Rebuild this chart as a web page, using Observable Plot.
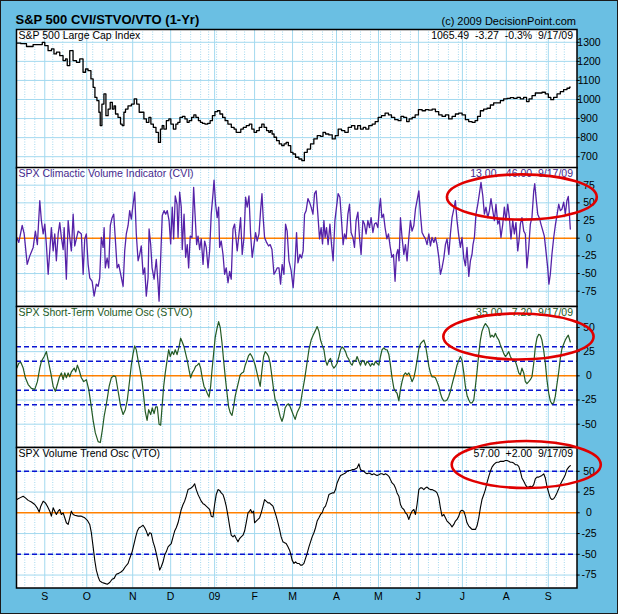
<!DOCTYPE html>
<html><head><meta charset="utf-8">
<script src="https://cdn.jsdelivr.net/npm/d3@7"></script>
<script src="https://cdn.jsdelivr.net/npm/@observablehq/plot@0.6"></script>
<style>
html,body{margin:0;padding:0;background:#fff;}
#chart{position:relative;width:618px;height:614px;background:#6abfe3;overflow:hidden;font-family:"Liberation Sans",Arial,sans-serif;}
#chart svg{position:absolute;left:0;overflow:visible;}
.t{position:absolute;white-space:pre;line-height:1;color:#000;}
#border{position:absolute;left:0;top:0;width:618px;height:614px;box-sizing:border-box;border:1px solid #1a1a1a;pointer-events:none;}
</style></head><body><div id="chart">
<div class="t" style="left:15.5px;top:13.3px;font-size:13px;font-weight:bold;">S&amp;P 500 CVI/STVO/VTO (1-Yr)</div>
<div class="t" style="right:42px;top:15.5px;font-size:11px;">(c) 2009 DecisionPoint.com</div>
</div>
<script>
// ---------- calendar ----------
const holidays = ["2008-09-01","2008-11-27","2008-12-25","2009-01-01","2009-01-19","2009-02-16","2009-04-10","2009-05-25","2009-07-03","2009-09-07"];
const monthLabels = ["S","O","N","D","09","F","M","A","M","J","J","A","S"];
const yTicksPrice = [700,800,900,1000,1100,1200,1300];
const yTicksCVI = [-75,-50,-25,0,25,50,75];
const yTicksSTVO = [-50,-25,0,25,50];
const yTicksVTO = [-75,-50,-25,0,25,50];
const stvoBands = [-30,-15,15,30];
const vtoBands = [-50,50];

// ---------- data: [trading-day index, value] ----------
const priceSeries = [[0,1296],[4,1293],[5.7,1278],[7.3,1278],[9,1288],[12.3,1288],[13.2,1300],[14.8,1283],[16.5,1256],[18.2,1265],[19,1239],[20.7,1248],[22.3,1230],[24,1204],[24.8,1213],[25.7,1178],[27.3,1256],[29,1204],[30.7,1195],[32.3,1213],[34,1143],[34.8,1160],[36.5,1151],[37.7,1108],[38.7,1064],[39.5,1011],[40.7,994],[41.5,933],[42,863],[43.2,976],[44,1029],[45.2,915],[46.2,950],[47.3,985],[48.3,950],[49,967],[49.8,924],[51.5,906],[52.3,871],[53.2,863],[54,933],[54.8,950],[56.5,967],[58.2,976],[59.3,1003],[60.7,976],[61.8,933],[63.2,933],[64,898],[65.7,880],[66.5,906],[67.7,871],[69,854],[70.3,828],[71.5,775],[72.3,845],[73.2,863],[74,845],[75.7,889],[76.5,898],[77.7,871],[79,845],[80.2,871],[81,880],[82.3,906],[83.5,911],[84.8,898],[85.7,880],[86.8,889],[88.2,906],[89,919],[90.3,906],[91.5,889],[92.3,880],[93.5,875],[94.8,871],[96.2,875],[97.3,889],[98.5,915],[99.8,936],[101,941],[102.3,924],[103.7,906],[104.8,889],[106.5,871],[108.2,854],[109.3,845],[110.3,828],[111.5,828],[112.7,845],[114,854],[115.7,863],[117,871],[118.2,845],[119.3,828],[120.7,837],[122,854],[123.2,871],[124.3,854],[125.7,837],[126.5,828],[127.3,837],[128.2,819],[129.3,802],[130.7,784],[132,767],[133.2,758],[134.3,767],[135.3,775],[136.5,758],[137.7,723],[138.7,714],[140.3,697],[142,688],[143.3,679],[144.5,723],[146.2,740],[147.8,767],[149.5,793],[151.2,810],[152.8,807],[153.7,828],[155.3,819],[157,814],[158.7,793],[160,810],[161.7,845],[163.3,837],[165,828],[166.7,854],[168.3,863],[170,845],[171.2,863],[172.8,845],[174,854],[175.3,845],[177,863],[178.7,871],[180,884],[181.7,906],[183.3,915],[185.3,929],[186.7,919],[188.3,906],[190,894],[191.7,889],[192.8,911],[194.5,906],[195.7,884],[197,898],[198.7,906],[200,919],[202,947],[203.7,941],[205.3,947],[207,944],[208.7,950],[210.3,936],[212,919],[213.7,911],[215.3,919],[217,898],[218.7,911],[220.3,924],[222,929],[223.7,919],[225.3,894],[227,884],[228.7,880],[230,889],[231.2,911],[232.8,941],[234.5,950],[236.2,954],[237.8,971],[239.5,982],[241.2,982],[242.8,994],[244.5,1003],[246.2,1006],[247.8,1010],[249.5,1006],[251.2,1011],[252.8,1003],[254.5,1011],[255.7,989],[257,1003],[258.7,1020],[260.3,1034],[262,1034],[263.7,1038],[265.3,1029],[266.7,1011],[267.8,999],[269.5,1011],[271.2,1029],[272.8,1041],[274.5,1052],[276.2,1059],[277,1065]];

const cviSeries = [[0,1],[1,-6],[2.7,18],[3.7,6],[5.2,-37],[6.5,-25],[8.2,-13],[9.3,10],[10.3,-9],[11.5,53],[12.3,25],[13.2,6],[14,20],[14.8,-9],[15.7,-51],[16.5,-18],[17.3,15],[18.2,-18],[19,6],[19.8,-32],[20.7,6],[21.5,22],[22.3,1],[23.2,-16],[23.7,15],[24.8,-58],[25.7,25],[26.5,1],[27.3,-18],[28.2,34],[29,-11],[29.8,-1],[30.7,10],[31.5,8],[32.3,6],[33.2,-51],[34,-1],[34.8,6],[35.7,-37],[36.5,-56],[37.7,-61],[38.7,-82],[39.8,-65],[40.7,-68],[41.5,-56],[42.3,1],[43.2,-13],[43.7,15],[44.3,-42],[45.2,-28],[46,-42],[46.8,18],[47.7,29],[48.5,34],[49.3,-1],[50.2,-42],[51,-37],[52,-51],[53.2,-68],[54,-18],[54.8,6],[55.7,18],[56.5,39],[57.3,27],[58.2,48],[59,65],[59.8,6],[60.7,-32],[61.5,-23],[62.3,-11],[63.2,-51],[64,-42],[64.8,-82],[65.7,-56],[66.2,13],[67,-9],[67.7,-42],[68.7,-58],[69.8,-30],[70.7,-65],[71.2,-89],[72,-28],[72.8,32],[73.7,39],[74.5,34],[75.3,39],[76.2,25],[77,-8],[77.8,44],[78.5,-1],[79.3,60],[80.2,48],[80.7,1],[81.5,65],[82.3,44],[82.8,-16],[83.7,34],[84.5,-27],[85.3,-9],[86,-42],[86.8,3],[87.7,1],[88.5,72],[89.2,34],[90,-9],[90.7,3],[91.5,-16],[92.3,-1],[93.2,-37],[94,-4],[94.8,-13],[95.7,-42],[96.5,-18],[97.3,34],[98.2,63],[98.7,82],[99.5,48],[100.3,29],[101,44],[101.5,-13],[102.3,-4],[103.2,-23],[104,-51],[104.8,-42],[105.7,-63],[106.5,-47],[107.3,-58],[108.2,13],[109,20],[109.5,6],[110.3,-18],[111.2,6],[112,29],[112.8,-23],[113.7,1],[114.5,58],[115.3,44],[116.2,60],[117,6],[117.8,-27],[118.7,-9],[119.5,8],[120.3,-4],[121.2,6],[122,39],[122.7,63],[123.3,29],[124,1],[125,-6],[126,-11],[126.8,-9],[127.7,-16],[128.7,-51],[129.5,-47],[130.3,-42],[131.2,-42],[132,-65],[132.8,-37],[133.7,-51],[134.5,20],[135.3,10],[136.2,-32],[137,-42],[137.3,-46],[138.3,-70],[139.3,-32],[140,8],[140.7,-35],[141.7,-23],[142.5,-28],[143.3,-18],[144,34],[144.8,39],[145.7,56],[146.5,51],[147.3,44],[148.2,34],[149,63],[149.8,67],[150.7,32],[151.5,-1],[152.3,15],[153,-8],[153.7,25],[154.3,1],[155,15],[155.8,-9],[156.7,20],[157.5,-9],[158.3,-32],[159.2,25],[160,44],[160.8,63],[161.7,58],[162.5,25],[163.3,-9],[164,6],[164.8,-1],[165.7,34],[166.5,48],[167.3,8],[168.2,1],[169,-13],[169.8,25],[170.7,37],[171.5,1],[172.3,-23],[173.2,25],[174,20],[174.8,6],[175.7,25],[176.5,15],[177.3,29],[178.2,8],[179,20],[179.8,22],[180.7,15],[181.5,44],[182,56],[182.7,29],[183.5,34],[184.3,15],[185.2,-1],[186,6],[186.8,-11],[187.7,-27],[188.5,-23],[189.3,-61],[190,-23],[190.7,-16],[191.3,-32],[192,29],[192.8,1],[193.7,-23],[194.5,-9],[195.3,-32],[196.2,1],[197,25],[197.8,10],[198.7,18],[199.5,41],[200.3,53],[201.2,67],[202,34],[202.8,8],[203.7,3],[204.5,-1],[205.3,-9],[206.2,6],[207,-11],[207.8,1],[208.7,-6],[209.5,1],[210.3,-9],[211.2,-27],[212,-51],[212.8,-42],[213.7,-28],[214.5,-9],[215.3,-1],[216.2,-23],[217,6],[217.8,29],[218.7,41],[219.5,53],[220.3,25],[221.2,3],[222,-13],[222.8,1],[223.7,-28],[224.5,-39],[225.3,-13],[226.2,-54],[227,-32],[227.8,-23],[228.3,-9],[229,1],[229.8,34],[230.7,48],[231.5,63],[232.3,79],[233.2,60],[234,34],[234.8,44],[235.7,29],[236.5,39],[237.3,56],[238.2,39],[239,25],[239.8,48],[240.7,20],[241.5,25],[242.3,1],[243.2,20],[244,44],[244.8,25],[245.7,48],[246.5,29],[247.3,-1],[248.2,25],[249,6],[249.8,22],[250.7,-18],[251.3,-4],[252,20],[252.8,29],[253.7,10],[254.5,6],[255.3,-42],[256.2,-13],[257,20],[257.8,29],[258.7,67],[259.2,77],[260,53],[260.7,34],[261.7,27],[262.3,20],[263.3,10],[264,3],[264.8,-18],[265.7,-42],[266.3,-65],[267,-51],[267.8,-23],[268.7,1],[269.5,18],[270.3,32],[271.2,48],[272,39],[272.8,41],[273.7,51],[274.5,34],[275.3,53],[276,59],[277,13]];

const stvoSeries = [[0,8],[1,13],[2,14],[3.2,8],[4.3,-2],[5.7,-9],[7.3,-13],[9,-14],[10.3,-6],[11.5,8],[12.3,15],[13.7,20],[14.8,25],[15.7,16],[17,3],[18.2,-11],[19.3,-16],[20.3,-9],[21.2,-2],[22.3,3],[23.2,-4],[24,3],[24.8,-2],[25.7,3],[26.5,-1],[27.3,4],[28.7,8],[29.5,4],[30.3,11],[31.2,6],[32.3,-2],[33.5,-6],[34.8,-4],[36,-14],[37,-28],[38.2,-46],[39.3,-59],[40.7,-68],[41.8,-69],[42.8,-56],[43.7,-42],[44.5,-33],[45.3,-23],[46.2,-11],[47.3,-2],[48.5,0],[49.5,-1],[50.3,-11],[51.2,-22],[52,-32],[53.2,-40],[54.3,-35],[55.3,-25],[56.5,-4],[57.3,11],[58.2,23],[59,31],[59.8,27],[60.7,16],[61.7,6],[62.7,-6],[63.5,-21],[64.3,-37],[65.2,-46],[66,-35],[67,-40],[67.8,-33],[68.7,-39],[69.5,-32],[70.3,-32],[71.2,-50],[72,-51],[72.7,-32],[73.5,-11],[74.3,3],[75.2,16],[76,27],[76.8,20],[77.7,25],[78.5,22],[79.3,27],[80.2,22],[81.2,30],[82,39],[82.8,35],[83.7,30],[84.5,23],[85.3,16],[86.2,6],[87,-2],[87.8,3],[88.7,6],[89.5,10],[90.3,11],[91.2,13],[92,8],[92.8,-2],[93.7,-11],[94.5,-14],[95.3,-18],[96.2,-22],[97,-11],[97.7,6],[98.5,23],[99.3,40],[100.2,49],[101,56],[101.8,50],[102.7,34],[103.5,16],[104.3,-1],[105.2,-18],[106,-32],[106.8,-38],[107.7,-41],[108.5,-32],[109.3,-21],[110.2,-13],[111,-6],[111.8,1],[112.7,3],[113.5,4],[114.3,11],[115.2,16],[116,21],[116.8,23],[117.7,20],[118.5,16],[119.3,11],[120.2,3],[121,-4],[121.8,-11],[122.7,6],[123.5,20],[124.3,25],[125.2,23],[126,20],[126.8,13],[127.7,-1],[128.5,-14],[129.3,-25],[130.2,-28],[131,-35],[131.8,-42],[132.7,-47],[133.5,-42],[134.3,-33],[135.2,-30],[136,-29],[136.8,-32],[138.3,-40],[139.3,-45],[140.3,-38],[141.7,-32],[142.8,-18],[144,-4],[145,10],[146.2,27],[147.3,37],[148.3,42],[149.5,47],[150.3,51],[151.2,46],[152,37],[152.8,32],[153.7,27],[154.5,16],[155.3,11],[156.2,16],[157,18],[157.8,11],[158.7,8],[159.5,10],[160.3,13],[161.2,20],[162,27],[162.8,30],[163.7,28],[164.5,25],[165.3,20],[166.2,17],[167,13],[167.8,11],[168.7,16],[169.5,15],[170.3,20],[171.2,15],[172,11],[172.8,16],[173.7,15],[174.5,11],[175.3,15],[176.2,13],[177,10],[177.8,13],[178.7,11],[179.5,15],[180.3,13],[181.2,11],[182,20],[182.8,27],[183.7,29],[184.5,27],[185.3,27],[186.2,22],[187,11],[187.8,-2],[188.7,-13],[189.5,-16],[190.3,-18],[191.2,-26],[192,-14],[192.8,-6],[193.7,1],[194.5,3],[195.3,1],[196.2,3],[197,-1],[197.8,-6],[198.7,-2],[199.5,6],[200.3,16],[201.2,28],[202,33],[202.8,35],[203.7,37],[204.5,32],[205.3,22],[206.2,10],[207,3],[207.8,-1],[208.7,-1],[209.5,-2],[210.3,-6],[211.2,-11],[212,-18],[212.8,-23],[213.7,-26],[214.5,-26],[215.3,-25],[216.2,-21],[217,-16],[217.8,-9],[218.7,-2],[219.5,4],[220.3,11],[221.2,16],[222,20],[222.8,16],[223.7,3],[224.5,-11],[225.3,-20],[226.2,-25],[227,-28],[227.8,-28],[228.7,-25],[229.5,-11],[230.3,4],[231.2,23],[232,37],[232.8,46],[233.7,51],[234.5,54],[235.3,52],[236.2,49],[237,40],[237.8,42],[238.7,40],[239.5,44],[240.3,40],[241.2,37],[242,32],[242.8,28],[243.7,23],[244.5,20],[245.3,22],[246.2,25],[247,20],[247.8,17],[248.7,16],[249.5,15],[250.3,10],[251.2,3],[252,1],[252.8,8],[253.7,3],[254.5,-6],[255.3,-8],[256.2,-6],[257,-4],[257.8,-1],[258.7,13],[259.5,30],[260.3,39],[261.2,43],[262,42],[262.8,37],[263.7,26],[264.5,13],[265.3,-4],[266.2,-18],[267,-26],[267.8,-29],[268.7,-28],[269.5,-21],[270.3,-9],[271.2,4],[272,18],[272.8,28],[273.7,33],[274.5,37],[275.3,40],[276,42],[277,35]];

const vtoSeries = [[0,16],[1.5,18],[3.2,20],[4.3,18],[5.7,15],[7.3,13],[9,10],[10.2,6],[11.2,1],[12,8],[13.2,14],[14.3,12],[15.3,8],[16.5,2],[17.3,-4],[18.2,6],[19,2],[19.8,-2],[20.7,2],[21.5,4],[22.3,-2],[23.2,0],[24,-6],[24.8,-12],[25.7,-14],[26.5,-6],[27.3,2],[28.2,-2],[29,-3],[30.7,-4],[32.3,-4],[34,-6],[35.3,-9],[36.5,-14],[37.3,-24],[38.2,-41],[39,-57],[39.8,-69],[40.7,-77],[41.5,-82],[42.7,-84],[44,-85],[45.3,-86],[46.5,-84],[47.7,-80],[48.7,-79],[49.8,-74],[51,-73],[52.3,-71],[53.2,-69],[54.3,-65],[55.7,-61],[56.5,-55],[57.7,-47],[58.7,-37],[59.5,-29],[60.3,-22],[61.2,-18],[62,-17],[63.2,-15],[64,-18],[64.8,-22],[65.7,-28],[66.5,-24],[67.3,-25],[68.2,-35],[69,-41],[69.8,-49],[70.7,-59],[71.5,-69],[72.3,-65],[73.2,-59],[74,-51],[74.8,-47],[75.7,-41],[76.5,-39],[77.3,-37],[78.2,-29],[79,-22],[79.8,-18],[80.7,-12],[81.5,-4],[82.3,4],[83.2,10],[84,14],[84.8,20],[85.7,28],[86.5,29],[87.3,30],[88.2,32],[89,35],[89.8,28],[90.7,22],[91.5,18],[92.3,14],[93.2,11],[94,10],[94.8,8],[95.7,6],[96.5,4],[97.3,-4],[98.2,-5],[99,10],[99.8,22],[100.7,28],[101.5,27],[102.3,24],[103.2,22],[104,16],[104.8,8],[105.7,-4],[106.5,-16],[107.3,-27],[108.2,-29],[109,-27],[109.8,-31],[110.7,-35],[111.5,-31],[112.3,-29],[113.2,-27],[114,-22],[114.8,-12],[115.7,0],[116.5,2],[117,4],[117.7,0],[118.5,2],[119,-12],[119.8,-10],[120.7,-8],[121.5,-6],[122.3,0],[123.2,8],[124,16],[124.8,14],[125.7,12],[126.5,12],[127.3,10],[128.2,8],[129,2],[129.8,-4],[130.7,-12],[131.5,-20],[132.3,-29],[133.2,-35],[134,-36],[134.8,-37],[135.7,-41],[136.5,-45],[137,-49],[137.8,-57],[138.7,-61],[139.5,-59],[140.3,-61],[141.2,-61],[142,-63],[142.8,-63],[143.7,-61],[144.5,-55],[145.3,-49],[146.2,-41],[147,-35],[147.8,-29],[148.7,-24],[149.5,-18],[150.3,-10],[151.2,-6],[152,-2],[152.8,0],[153.7,6],[154.5,8],[155.3,14],[156.2,22],[157,23],[157.8,24],[158.7,24],[159.5,28],[160.3,36],[161.2,41],[162,45],[162.8,46],[163.7,47],[164.5,48],[165.3,50],[166.2,51],[167,51],[167.8,52],[168.7,52],[169.5,53],[170.3,54],[171.2,59],[172,52],[172.8,51],[173.7,50],[174.5,48],[175.3,47],[176.2,48],[177,47],[177.8,46],[178.7,47],[179.5,46],[180.3,45],[181.2,46],[182,47],[182.8,47],[183.7,46],[184.5,47],[185.3,46],[186.2,44],[187,40],[187.8,36],[188.7,34],[189.5,30],[190.3,24],[191.2,20],[192,10],[192.8,6],[193.7,4],[194.5,0],[195.3,-2],[196.2,-8],[197,-2],[197.8,2],[198.7,4],[199.5,-2],[200.3,10],[201.2,28],[202,30],[202.8,30],[203.7,28],[204.5,30],[205.3,31],[206.2,29],[207,28],[207.8,28],[208.7,27],[209.5,26],[210.3,24],[211.2,18],[212,6],[212.8,-4],[213.7,-2],[214.5,-6],[215.3,-10],[216.2,-12],[217,-14],[217.8,-17],[218.7,-14],[219.5,-10],[220.3,-8],[221.2,-4],[222,2],[222.8,3],[223.7,2],[224.5,-4],[225.3,-12],[226.2,-16],[227,-18],[227.8,-20],[228.7,-20],[229.5,-20],[230.3,-16],[231.2,-6],[232,6],[232.8,16],[233.7,22],[234.5,28],[235.3,36],[236.2,44],[237,50],[237.8,55],[238.7,58],[239.5,60],[240.3,61],[241.2,61],[242,62],[243.7,62],[244.5,63],[245.3,63],[246.2,62],[247,61],[247.8,61],[248.7,60],[249.5,58],[250.3,58],[251.2,56],[252,50],[252.8,42],[253.7,38],[254.5,34],[255.3,31],[256.2,31],[257,32],[257.8,31],[258.7,34],[259.5,41],[260.3,43],[261.2,43],[262,44],[262.8,45],[263.7,47],[264.5,42],[265.3,32],[266.2,24],[267,18],[267.8,16],[268.7,17],[269.5,20],[270.3,24],[271.2,29],[272,34],[272.8,38],[273.7,42],[274.5,46],[275.3,52],[276.2,55],[277,57]];

// highlight ellipses (center day, center value, half-width in days, half-height in value units)
const highlights = {cvi:[253,57.6,37.5,32], stvo:[251.3,40.2,37.6,23.8], vto:[255.2,57.6,37.3,28.3]};

// ---------- trading calendar ----------
const days = [];
for (let d = new Date(Date.UTC(2008,7,12)); d <= new Date(Date.UTC(2009,8,17)); d.setUTCDate(d.getUTCDate()+1)) {
  const wd = d.getUTCDay(), s = d.toISOString().slice(0,10);
  if (wd === 0 || wd === 6 || holidays.includes(s)) continue;
  days.push(new Date(d));
}
const monthStarts = [], weekStarts = [];
for (let i = 1; i < days.length; i++) {
  if (days[i].getUTCMonth() !== days[i-1].getUTCMonth()) monthStarts.push(i);
  else if (days[i].getUTCDay() < days[i-1].getUTCDay()) weekStarts.push(i);
}

const chart = document.getElementById("chart");
const gridC = "#a3d9ef";
const X0 = -0.15, X1 = 280.35;
const font = "'Liberation Sans', Arial, sans-serif";

function panel({top, h, yDomain, grid, labels, marks, bottom = 0, title, titleColor, info, ellipse}) {
  const svg = Plot.plot({
    width: 618, height: h + 4 + bottom,
    marginLeft: 16, marginRight: 41.5, marginTop: 2, marginBottom: 2 + bottom,
    x: {domain: [X0, X1], axis: null},
    y: {domain: yDomain, axis: null},
    style: {background: "transparent", overflow: "visible", fontFamily: font, fontSize: "10.5px", color: "#000"},
    marks: [
      Plot.frame({fill: "white", stroke: null}),
      Plot.ruleX(weekStarts, {stroke: gridC, strokeDasharray: "1,1.5"}),
      Plot.ruleX(monthStarts, {stroke: gridC}),
      Plot.ruleY(grid, {stroke: gridC}),
      ...marks,
      Plot.text([title], {frameAnchor: "top-left", textAnchor: "start", lineAnchor: "bottom", dx: 2, dy: 9, fill: titleColor, text: d => d}),
      Plot.text([info], {frameAnchor: "top-right", textAnchor: "end", lineAnchor: "bottom", dx: -4, dy: 9, fill: titleColor, text: d => d}),
      Plot.frame({stroke: "#000", strokeWidth: 1.5}),
      Plot.ruleY(labels, {x1: X1, x2: X1 + 1.6, stroke: "#000"}),
      Plot.text(labels, {y: d => d, frameAnchor: "right", dx: 12, textAnchor: "middle", fill: "#000", text: d => String(d)})
    ]
  });
  svg.style.top = (top - 2) + "px";
  chart.appendChild(svg);
  if (ellipse) {
    const xs = svg.scale("x"), ys = svg.scale("y");
    const [cx, cy, rx, ry] = ellipse;
    d3.select(svg).append("ellipse")
      .attr("cx", xs.apply(cx)).attr("cy", ys.apply(cy))
      .attr("rx", xs.apply(cx + rx) - xs.apply(cx))
      .attr("ry", Math.abs(ys.apply(cy + ry) - ys.apply(cy)))
      .attr("fill", "none").attr("stroke", "#e00000").attr("stroke-width", 2.6);
  }
  return svg;
}

panel({top: 28.5, h: 138.5, yDomain: [640.7, 1367.1], grid: yTicksPrice, labels: yTicksPrice,
  title: "S&P 500 Large Cap Index", titleColor: "#000", info: "1065.49  -3.27  -0.3%  9/17/09",
  marks: [Plot.line(priceSeries, {x: d => d[0], y: d => d[1], curve: "step", stroke: "#000", strokeWidth: 1.3})]});

panel({top: 167, h: 139, yDomain: [-96.6, 100], grid: [-75,-50,-25,25,50,75], labels: yTicksCVI,
  title: "SPX Climactic Volume Indicator (CVI)", titleColor: "#46288c", info: "13.00  -46.00  9/17/09",
  ellipse: highlights.cvi,
  marks: [Plot.ruleY([0], {stroke: "#ff8000", strokeWidth: 1.5}),
          Plot.line(cviSeries, {x: d => d[0], y: d => d[1], stroke: "#5522a8", strokeWidth: 1.3})]});

panel({top: 306, h: 141, yDomain: [-74.1, 71.7], grid: [-50,-25,25,50], labels: yTicksSTVO,
  title: "SPX Short-Term Volume Osc (STVO)", titleColor: "#245a24", info: "35.00  -7.20  9/17/09",
  ellipse: highlights.stvo,
  marks: [Plot.ruleY([0], {stroke: "#ff8000", strokeWidth: 1.5}),
          Plot.ruleY(stvoBands, {stroke: "#0a14d2", strokeWidth: 1.5, strokeDasharray: "5,3"}),
          Plot.line(stvoSeries, {x: d => d[0], y: d => d[1], stroke: "#245a24", strokeWidth: 1.2})]});

panel({top: 447, h: 140.5, bottom: 20, yDomain: [-90.6, 78.7], grid: [-75,-50,-25,25,50], labels: yTicksVTO,
  title: "SPX Volume Trend Osc (VTO)", titleColor: "#000", info: "57.00  +2.00  9/17/09",
  ellipse: highlights.vto,
  marks: [Plot.ruleY([0], {stroke: "#ff8000", strokeWidth: 1.5}),
          Plot.ruleY(vtoBands, {stroke: "#0a14d2", strokeWidth: 1.5, strokeDasharray: "5,3"}),
          Plot.line(vtoSeries, {x: d => d[0], y: d => d[1], stroke: "#000", strokeWidth: 1.1}),
          Plot.text(monthStarts, {x: d => d, frameAnchor: "bottom", dy: 9, lineAnchor: "middle", fill: "#000", text: (d, i) => monthLabels[i]})]});

const b = document.createElement("div"); b.id = "border"; chart.appendChild(b);
</script></body></html>
